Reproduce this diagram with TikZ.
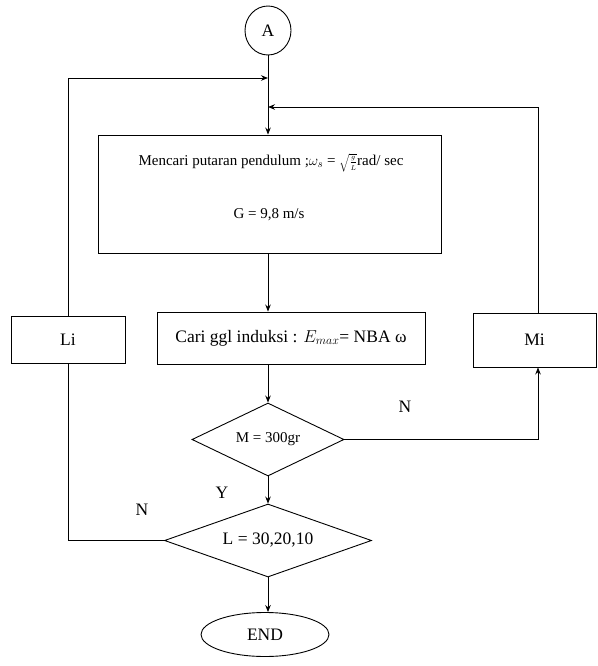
\documentclass[tikz,border=0pt]{standalone}
\usepackage{fontspec}
\setmainfont{Liberation Serif}
\usetikzlibrary{shapes.geometric,arrows.meta}
\begin{document}
\begin{tikzpicture}[x=1pt,y=1pt,
  line width=0.9pt,
  arr/.style={-{Stealth[length=7pt,width=5.5pt]}},
  box/.style={draw,rectangle,inner sep=0pt},
  dia/.style={draw,diamond,inner sep=0pt},
  big/.style={font=\fontsize{17.5}{20}\selectfont},
  mid/.style={font=\fontsize{15}{17}\selectfont},
  lbl/.style={big,inner sep=0pt}]
\useasboundingbox (0,0) rectangle (597,-666);
\node[draw,ellipse,minimum width=46pt,minimum height=49pt,inner sep=0pt,big] (A) at (268,-30.5) {A};
\node[box,minimum width=343pt,minimum height=118pt] (box1) at (269.5,-194) {};
\node[inner sep=0pt,mid] (t1) at (271,-163) {Mencari putaran pendulum ;$\omega_s$ = $\sqrt{\textstyle\frac{\scriptscriptstyle g}{\scriptscriptstyle L}}$rad/ sec};
\node[inner sep=0pt,mid] (t2) at (269,-215) {G = 9,8 m/s};
\node[box,minimum width=268pt,minimum height=52pt,big] (box2) at (291,-338) {Cari ggl induksi : $E_{max}$= NBA ω};
\node[box,minimum width=114pt,minimum height=47pt,big] (Li) at (68,-339.5) {Li};
\node[box,minimum width=123pt,minimum height=54pt,big] (Mi) at (534.5,-340) {Mi};
\node[dia,aspect=2.08,minimum width=152pt,minimum height=73pt,mid] (D1) at (268,-439.5) {M = 300gr};
\node[dia,aspect=2.84,minimum width=207pt,minimum height=73pt,big] (D2) at (268,-540.5) {L = 30,20,10};
\node[draw,ellipse,minimum width=128pt,minimum height=44pt,inner sep=0pt,big] (E) at (265,-634.5) {END};
\coordinate (jL) at (268,-78);
\coordinate (jM) at (268,-107);
\coordinate (mx) at (538,-340);
\node[lbl] (n1) at (405,-407) {N};
\node[lbl] (n2) at (142,-510) {N};
\node[lbl] (y1) at (222,-493) {Y};
% connectors
\draw[arr] (A.south) -- (A |- box1.north);
\draw[arr] (Li.north) |- (jL);
\draw[arr] (mx |- Mi.north) |- (jM);
\draw[arr] (A |- box1.south) -- (A |- box2.north);
\draw[arr] (A |- box2.south) -- (D1.north);
\draw[arr] (D1.east) -| (mx |- Mi.south);
\draw[arr] (D1.south) -- (D2.north);
\draw (D2.west) -| (Li.south);
\draw[arr] (D2.south) -- (D2.south |- E.north);
\end{tikzpicture}
\end{document}
